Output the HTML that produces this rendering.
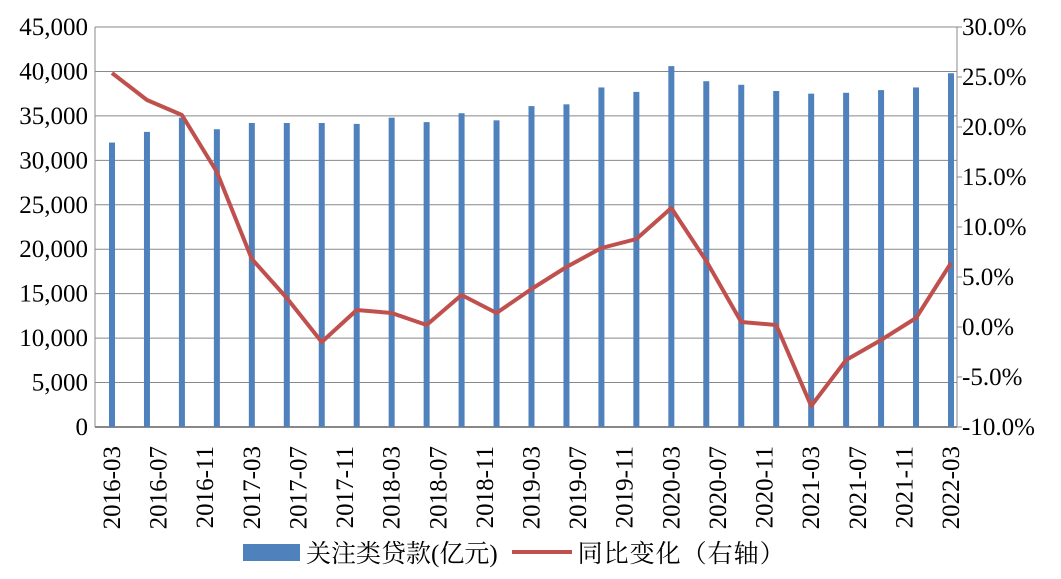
<!DOCTYPE html>
<html><head><meta charset="utf-8"><style>
body{margin:0;background:#fff;}
svg text{font-family:"Liberation Serif","Noto Serif CJK SC",serif;font-size:25px;fill:#000;}
</style></head><body>
<svg id="c" width="1061" height="574"></svg>
<script>
const categories=["2016-03","2016-06","2016-09","2016-12","2017-03","2017-06","2017-09","2017-12","2018-03","2018-06","2018-09","2018-12","2019-03","2019-06","2019-09","2019-12","2020-03","2020-06","2020-09","2020-12","2021-03","2021-06","2021-09","2021-12","2022-03"];
const loans=[32000,33200,34800,33500,34200,34200,34200,34100,34800,34300,35300,34500,36100,36300,38200,37700,40600,38900,38500,37800,37500,37600,37900,38200,39800];
const yoy=[25.4,22.7,21.2,15.5,6.8,2.9,-1.5,1.7,1.4,0.2,3.2,1.4,3.8,6.0,7.9,8.8,11.9,6.6,0.5,0.2,-7.9,-3.3,-1.3,0.9,6.4];
const leftTicks=[0,5000,10000,15000,20000,25000,30000,35000,40000,45000];
const rightTicks=[-10,-5,0,5,10,15,20,25,30];
const xLabels=["2016-03","2016-07","2016-11","2017-03","2017-07","2017-11","2018-03","2018-07","2018-11","2019-03","2019-07","2019-11","2020-03","2020-07","2020-11","2021-03","2021-07","2021-11","2022-03"];
const NS="http://www.w3.org/2000/svg";
const svg=document.getElementById('c');
const L=95,R=957,T=27,B=427,x0=112,x1=951;
const yL=v=>B-(v/45000)*(B-T);
const yR=v=>B-((v+10)/40)*(B-T);
const monthIdx=s=>{const[a,b]=s.split('-').map(Number);return (a-2016)*12+b-3;};
const xM=m=>x0+m*(x1-x0)/72;
function mk(t,a,p){const e=document.createElementNS(NS,t);for(const k in a)e.setAttribute(k,a[k]);(p||svg).appendChild(e);return e;}
leftTicks.forEach(v=>{
 const g=mk('line',{x1:L,x2:R,y1:yL(v),y2:yL(v),stroke:'#888','stroke-width':v===0?2:1});
 
 
 const t=mk('text',{x:88,y:yL(v)+8,'text-anchor':'end'});t.textContent=v.toLocaleString('en-US');
 
 
});
rightTicks.forEach(v=>{
 const t=mk('text',{x:962,y:yR(v)+8});t.textContent=v.toFixed(1)+'%';
 
 
 const k=mk('line',{x1:R,x2:R+5,y1:yR(v),y2:yR(v),stroke:'#888'});
 
 
});
const la=mk('line',{x1:L,x2:L,y1:T,y2:B,stroke:'#888'});


const ra=mk('line',{x1:R,x2:R,y1:T,y2:B,stroke:'#888'});


categories.forEach((c,i)=>{
 const x=xM(monthIdx(c));
 const b=mk('rect',{x:x-3,y:yL(loans[i]),width:6,height:B-yL(loans[i]),fill:'#4F81BD'});
 
 
});
const pts=categories.map((c,i)=>xM(monthIdx(c))+','+yR(yoy[i])).join(' ');
const pl=mk('polyline',{points:pts,fill:'none',stroke:'#C0504D','stroke-width':4,'stroke-linejoin':'round'});


xLabels.forEach(s=>{
 const x=xM(monthIdx(s));
 const t=mk('text',{x:0,y:0,'text-anchor':'end',transform:`translate(${x+8},446) rotate(-90)`});t.textContent=s;
 
 
});
</script>
<div style="position:absolute;left:243px;top:534px;font-family:'Liberation Serif','Noto Serif CJK SC',serif;font-size:25px;display:flex;align-items:center;white-space:nowrap;">
 <span style="display:inline-block;width:57px;height:17px;background:#4F81BD;margin-right:6px"></span>
 <span>关注类贷款(亿元)</span>
 <span style="display:inline-block;width:60px;height:4px;background:#C0504D;margin:0 6px 0 14px"></span>
 <span style="letter-spacing:1px">同比变化（右轴）</span>
</div>
</body></html>
